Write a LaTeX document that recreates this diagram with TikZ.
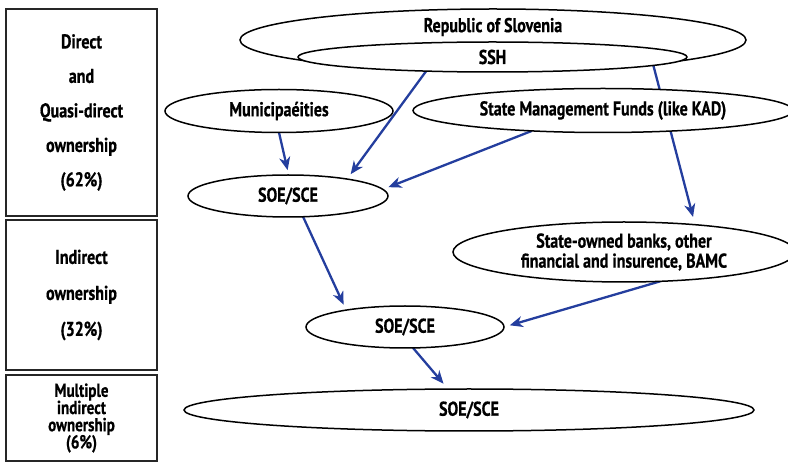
\documentclass[tikz,border=0pt]{standalone}
\usepackage{fontspec}
\setmainfont{PT Sans}[FakeStretch=0.8, FakeBold=0.6]
\usetikzlibrary{shapes.geometric,arrows.meta}
\pgfdeclarelayer{bg}
\pgfsetlayers{bg,main}
\definecolor{arrblue}{RGB}{36,62,158}
\newcommand\labfont{\bfseries\fontsize{20}{20}\selectfont}
\begin{document}
\begin{tikzpicture}[x=1pt,y=-1pt,
  oval/.style={ellipse, draw=black, line width=1.5pt, fill=white, inner sep=0pt, outer sep=0pt, font=\labfont, align=center},
  box/.style={rectangle, draw=black!85, line width=1.2pt, minimum width=151pt, align=center, inner sep=0pt, font=\labfont},
  arr/.style={draw=arrblue, line width=2.3pt, -{Stealth[length=13pt,width=11pt,inset=4pt]}},
  txt/.style={inner sep=0pt, font=\labfont, align=center}]
\useasboundingbox (0,0) rectangle (788,462);
% left boxes
\node[box, minimum height=207pt] (b1) at (81.5,112.5) {Direct\\[14.5pt]and\\[14.5pt]Quasi-direct\\[14.5pt]ownership\\[14.5pt](62\%)};
\node[box, minimum height=150pt] (b2) at (81.5,295) {Indirect\\[16pt]ownership\\[16pt](32\%)};
\node[box, minimum height=86pt, font={\labfont\fontsize{18.8}{17.2}\selectfont}] (b3) at (81.5,418) {Multiple\\indirect\\ownership\\(6\%)};
% ellipses
\node[oval, minimum width=506pt, minimum height=62pt] (rep) at (493,40) {};
\node[txt] (reptxt) at ([yshift=13pt]rep.center) {Republic of Slovenia};
\node[oval, minimum width=389pt, minimum height=30pt] (ssh) at (492.5,57) {SSH};
\node[oval, minimum width=228pt, minimum height=43pt] (muni) at (279,111) {Municipaéities};
\node[oval, minimum width=380pt, minimum height=44pt] (smf) at (603,110.5) {State Management Funds (like KAD)};
\node[oval, minimum width=200pt, minimum height=42pt] (soe1) at (288,196) {SOE/SCE};
\node[oval, minimum width=342pt, minimum height=60pt] (banks) at (624,252) {State-owned banks, other\\financial and insurence, BAMC};
\node[oval, minimum width=198pt, minimum height=42pt] (soe2) at (405,327) {SOE/SCE};
\node[oval, minimum width=570pt, minimum height=42pt] (soe3) at (469,410) {SOE/SCE};
% arrows
\begin{pgfonlayer}{bg}
\draw[arr, shorten >=6pt] (ssh.192) -- (soe1.16);
\draw[arr, shorten >=5pt] (muni.270) -- (soe1.88);
\draw[arr, shorten >=6pt] (smf.196) -- (soe1.4);
\draw[arr, shorten >=8pt] (ssh.-3) -- (banks.21);
\draw[arr, shorten >=6pt] (soe1.-54) -- (soe2.164);
\draw[arr, shorten >=6pt] (banks.-39) -- (soe2.0);
\draw[arr, shorten >=7pt] (soe2.-69) -- (soe3.135);
\end{pgfonlayer}
\end{tikzpicture}
\end{document}
